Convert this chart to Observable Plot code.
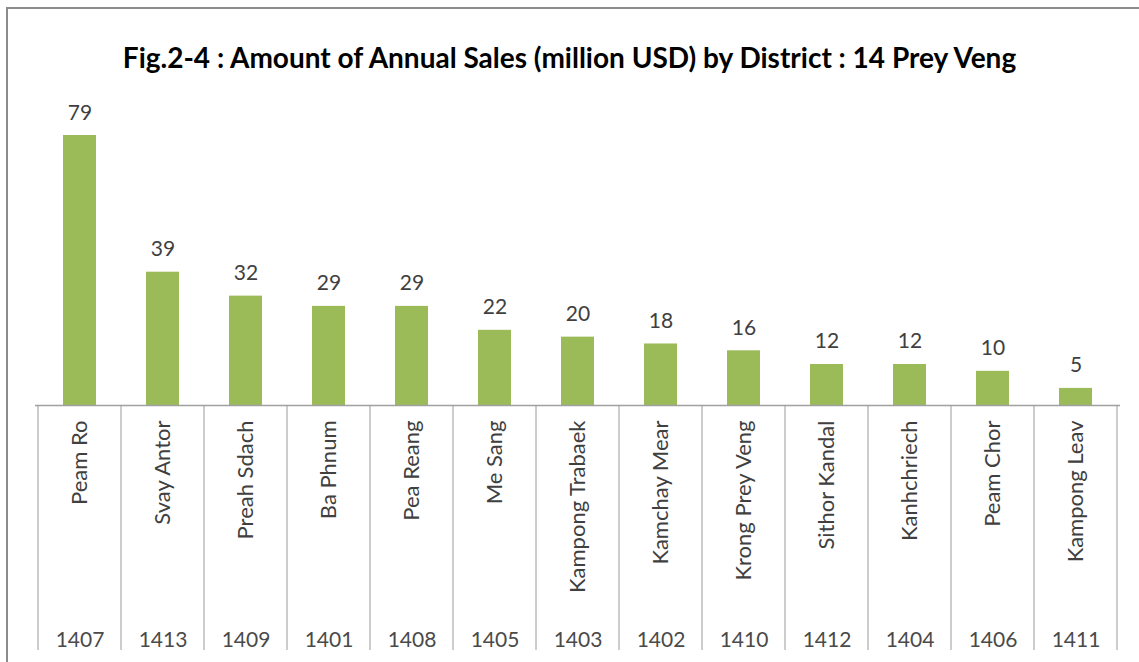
<!DOCTYPE html>
<html>
<head>
<meta charset="utf-8">
<script src="https://cdn.jsdelivr.net/npm/d3@7"></script>
<script src="https://cdn.jsdelivr.net/npm/@observablehq/plot@0.6"></script>
<style>
  html, body { margin: 0; padding: 0; background: #fff; overflow: hidden; }
  #wrap { position: relative; width: 1139px; height: 662px; }
  #frame { position: absolute; left: 6px; top: 7px; width: 1200px; height: 700px; border: 2px solid #8c8c8c; box-sizing: border-box; }
  #title { position: relative; height: 95px; box-sizing: border-box; padding-top: 40px; line-height: 34px; text-align: center;
           font-family: Lato, "Open Sans", sans-serif; font-weight: bold; font-size: 28px; color: #000; }
  #chart { position: relative; }
</style>
</head>
<body>
<div id="wrap">
  <div id="frame"></div>
  <div id="title">Fig.2-4 : Amount of Annual Sales (million USD) by District : 14 Prey Veng</div>
  <div id="chart"></div>
</div>
<script>
const districts = ["Peam Ro", "Svay Antor", "Preah Sdach", "Ba Phnum", "Pea Reang", "Me Sang", "Kampong Trabaek", "Kamchay Mear", "Krong Prey Veng", "Sithor Kandal", "Kanhchriech", "Peam Chor", "Kampong Leav"];
const codes = ["1407", "1413", "1409", "1401", "1408", "1405", "1403", "1402", "1410", "1412", "1404", "1406", "1411"];
const sales = [79, 39, 32, 29, 29, 22, 20, 18, 16, 12, 12, 10, 5];

const data = districts.map((d, i) => ({district: d, code: codes[i], sales: sales[i]}));
const codeOf = new Map(data.map(d => [d.district, d.code]));

const H = 567;
const plot = Plot.plot({
  width: 1139,
  height: H,
  marginLeft: 35,
  marginRight: 19,
  marginTop: 40,
  marginBottom: 257,
  x: {domain: districts, paddingInner: 0.6, paddingOuter: 0.3, axis: null},
  y: {domain: [0, 79], axis: null},
  style: {fontFamily: "Lato, 'Open Sans', sans-serif", background: "transparent", overflow: "visible", color: "#404040"},
  marks: [
    Plot.barY(data, {x: "district", y: "sales", fill: "#9bbb59"}),
    Plot.text(data, {x: "district", y: "sales", text: d => String(d.sales), lineAnchor: "bottom", dy: -16, fontSize: 21, fill: "#404040"}),
    Plot.ruleY([0], {stroke: "#a0a0a0", strokeWidth: 1.5}),
    Plot.axisX({anchor: "bottom", label: null, tickSize: 0, tickPadding: 15, tickRotate: -90, textAnchor: "end", fontSize: 22, fill: "#404040"}),
    Plot.axisX({anchor: "bottom", label: null, tickSize: 0, tickPadding: 227, tickFormat: d => codeOf.get(d), fontSize: 21, fill: "#4a4a4a"})
  ]
});

// cell separators of the category table, placed from the plot's own scales
const xs = plot.scale("x");
const ys = plot.scale("y");
const gap = (xs.step - xs.bandwidth) / 2;
const edges = districts.map(d => xs.apply(d) - gap);
edges.push(xs.apply(districts[districts.length - 1]) + xs.bandwidth + gap);
const y0 = ys.apply(0);
d3.select(plot).append("g")
  .attr("stroke", "#9a9a9a")
  .attr("stroke-width", 1)
  .selectAll("line")
  .data(edges)
  .join("line")
  .attr("x1", d => d).attr("x2", d => d)
  .attr("y1", y0).attr("y2", H - 12);

document.getElementById("chart").appendChild(plot);
</script>
</body>
</html>
